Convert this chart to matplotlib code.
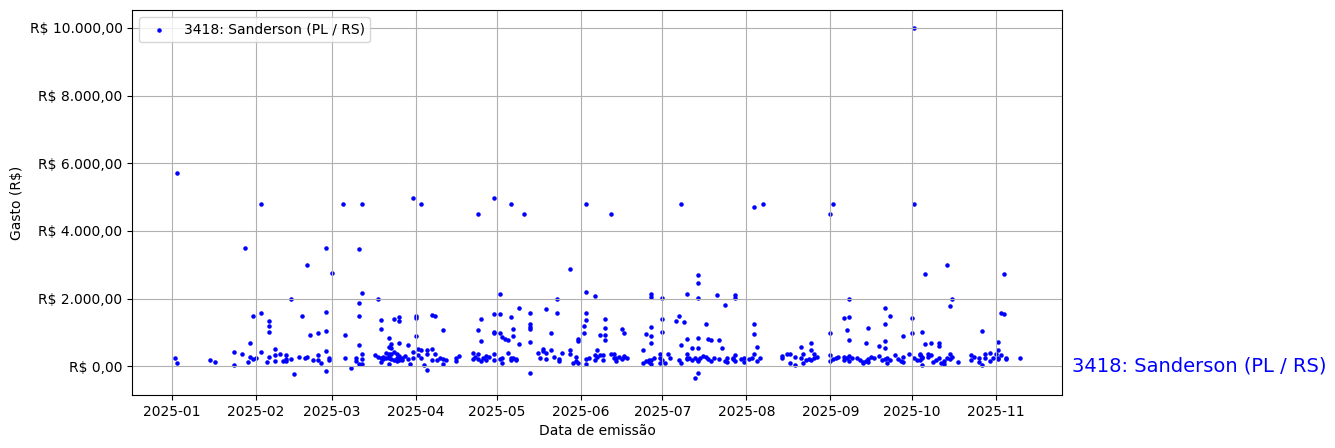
import numpy as np
import pandas as pd
import matplotlib
matplotlib.use("Agg")
import matplotlib.pyplot as plt
from matplotlib.ticker import FuncFormatter
import matplotlib.transforms as mtransforms

# ---- data: (day offset from 2025-01-01, value in R$) ----
pontos_jan_abr = [
    (2, 5710), (33, 4800), (63, 4800), (70, 4800), (89, 4980), (92, 4800), (27, 3500),
    (57, 3500), (69, 3470), (50, 3000), (59, 2760), (70, 2170), (69, 1880), (44, 2000),
    (76, 2000), (30, 1480), (33, 1580), (36, 1350), (36, 1200), (36, 1020), (48, 1490),
    (57, 1610), (57, 1050), (51, 930), (54, 990), (64, 930), (69, 1490), (69, 640),
    (77, 1380), (77, 1100), (82, 1410), (84, 1470), (84, 1350), (90, 1490), (90, 1430),
    (90, 900), (96, 1520), (97, 1480), (100, 1080), (29, 700), (80, 850), (87, 640), (84, 700),
    (1, 260), (2, 110), (14, 200), (16, 140), (23, 420), (23, 50), (26, 370), (28, 140),
    (29, 290), (30, 230), (31, 260), (33, 430), (35, 140), (36, 290), (38, 510), (38, 340),
    (38, 170), (40, 370), (41, 170), (42, 230), (42, 340), (42, 170), (45, -220), (44, 230),
    (47, 290), (49, 260), (50, 290), (52, 200), (54, 340), (54, 200), (55, 110), (57, 460),
    (57, -130), (58, 260), (58, 200), (64, 260), (66, -40), (68, 260), (68, 170), (69, 80),
    (70, 80), (70, 370), (70, 230), (75, 340), (76, 290), (77, 140), (77, 260), (78, 230),
    (78, 290), (79, 260), (80, 80), (80, 370), (80, 580), (81, 670), (81, 550), (82, 430),
    (80, 260), (81, 230), (83, 260), (83, 370), (84, 310), (84, 260), (85, 260), (85, 200),
    (88, 80), (89, 430), (89, 260), (91, 520), (91, 340), (92, 490), (92, 260), (93, 50),
    (94, 490), (94, 370), (94, -100), (96, 520), (96, 200), (97, 370), (98, 200), (99, 260),
    (100, 230), (101, 200), (100, 80), (80, 300), (82, 200), (83, 150), (81, 350),
    (79, 400), (84, 180), (86, 300), (87, 220),
]

pontos_abr_ago = [
    (113, 4500), (119, 4980), (125, 4800), (130, 4500), (153, 4800), (162, 4500),
    (188, 4800), (215, 4710),
    (147, 2880), (121, 2140), (153, 2200), (156, 2080), (142, 2000), (177, 2140),
    (177, 2050), (181, 2020), (190, 2140), (194, 2700), (194, 2470), (194, 2020),
    (201, 2110), (204, 1820), (208, 2110), (208, 2020),
    (114, 1410), (113, 1080), (114, 760), (119, 1550), (121, 1550), (119, 1020), (119, 990),
    (121, 990), (125, 1460), (126, 1110), (126, 900), (128, 1730), (128, 670), (122, 870),
    (123, 820), (124, 790), (132, 1580), (132, 1260), (132, 1170), (132, 1110), (132, 730),
    (138, 1700), (142, 1580), (140, 990), (150, 820), (150, 760), (153, 1580), (153, 1380),
    (152, 1200), (152, 990), (160, 1410), (160, 1140), (160, 930), (158, 930), (160, 790),
    (166, 1110), (167, 990), (177, 1170), (177, 900), (177, 700), (175, 960), (181, 1410),
    (181, 1020), (186, 1350), (187, 1490), (189, 1320), (188, 640), (190, 820), (197, 1260),
    (198, 820), (199, 790), (202, 790), (203, 550), (215, 1260), (215, 960), (216, 580),
    (194, 850), (194, 550), (192, 550), (174, 490), (180, 370),
    (105, 260), (106, 310), (105, 170), (111, 400), (112, 290), (111, 230), (113, 370),
    (113, 230), (114, 170), (115, 260), (116, 310), (116, 200), (117, 290), (119, 370),
    (119, 200), (121, 230), (122, 110), (122, 260), (124, 400), (125, 260), (125, 200),
    (126, 260), (127, 200), (127, 230), (132, -210), (135, 400), (136, 260), (137, 520),
    (137, 460), (138, 400), (138, 230), (140, 490), (141, 290), (143, 230), (143, 170),
    (144, 400), (147, 490), (147, 370), (148, 110), (149, 290), (149, 170), (150, 110),
    (153, 230), (153, 80), (154, 260), (156, 200), (156, 340), (157, 490), (157, 290),
    (158, 340), (159, 340), (159, 200), (162, 370), (163, 370), (163, 260), (164, 170),
    (164, 260), (165, 290), (166, 230), (167, 310), (167, 290), (168, 260), (174, 110),
    (175, 170), (176, 200), (176, 140), (177, 80), (177, 200), (178, 260), (180, 260),
    (180, 110), (181, 200), (182, 110), (183, 370), (184, 260), (187, 200), (188, 110),
    (190, 260), (190, 370), (190, 230), (191, 260), (192, 200), (193, 260), (194, 200),
    (194, 170), (194, -190), (193, -330), (195, 260), (196, 310), (197, 290), (198, 230),
    (199, 170), (200, 260), (202, 230), (204, 170), (205, 260), (205, 140), (207, 260),
    (207, 230), (208, 340), (208, 170), (210, 230), (211, 260), (211, 140), (213, 230),
    (214, 260), (215, 370), (216, 170), (217, 260),
]

pontos_ago_nov = [
    (218, 4800), (243, 4500), (244, 4800), (274, 4800), (274, 10000),
    (286, 3000), (278, 2730), (307, 2730), (250, 2000), (288, 2000), (287, 1790),
    (306, 1580), (307, 1550), (248, 1440), (250, 1460), (249, 1080), (243, 990), (250, 790),
    (257, 1140), (256, 700), (263, 1730), (263, 1260), (263, 760), (263, 550), (265, 1490),
    (261, 610), (270, 900), (273, 1440), (273, 990), (277, 1020), (278, 670), (280, 700),
    (283, 700), (283, 610), (299, 1050), (305, 730), (305, 490),
    (225, 310), (225, 260), (227, 370), (228, 110), (228, 370), (230, 290), (230, 50),
    (232, 580), (232, 260), (233, 370), (233, 110), (234, 200), (235, 230), (236, 700),
    (236, 490), (237, 370), (237, 260), (238, 290), (236, 200), (243, 340), (243, 170),
    (244, 230), (245, 260), (246, 290), (248, 290), (248, 200), (249, 260), (250, 310),
    (250, 170), (251, 260), (253, 260), (254, 200), (255, 110), (255, 140), (256, 170),
    (257, 140), (257, 230), (258, 290), (259, 260), (261, 310), (262, 200), (263, 230),
    (264, 260), (264, 110), (265, 200), (267, 340), (268, 230), (269, 170), (270, 290),
    (270, 140), (272, 370), (274, 260), (275, 200), (276, 340), (276, 370), (277, 290),
    (277, 50), (276, 200), (277, 260), (279, 370), (279, 290), (280, 340), (281, 140),
    (282, 200), (283, 260), (284, 110), (285, 80), (285, 170), (286, 260), (287, 370),
    (287, 230), (288, 290), (290, 140), (295, 340), (295, 200), (296, 290), (298, 260),
    (298, 140), (299, 50), (300, 370), (300, 260), (302, 400), (302, 170), (303, 260),
    (304, 370), (305, 260), (305, 230), (306, 340), (308, 260), (308, 230), (313, 260),
]

rotulo = "3418: Sanderson (PL / RS)"
inicio = np.datetime64("2025-01-01")

pontos = pontos_jan_abr + pontos_abr_ago + pontos_ago_nov
dias = np.array([p[0] for p in pontos])
gastos = np.array([p[1] for p in pontos], dtype=float)
datas = pd.to_datetime(inicio + dias.astype("timedelta64[D]"))

fig = plt.figure(figsize=(13.35, 4.48), dpi=100)
ax = fig.add_axes([0.0991, 0.1183, 0.6966, 0.8587])

ax.scatter(datas, gastos, s=5, color="blue", label=rotulo)
ax.grid(True)


def brl(v, pos):
    s = f"{v:,.2f}"
    s = s.replace(",", "X").replace(".", ",").replace("X", ".")
    return f"R$ {s}"


ax.yaxis.set_major_formatter(FuncFormatter(brl))
ax.set_xlabel("Data de emissão")
ax.set_ylabel("Gasto (R$)")
ax.legend(loc="upper left")

trans = mtransforms.blended_transform_factory(ax.transAxes, ax.transData)
ax.text(1.01, 0, rotulo, transform=trans, color="blue", fontsize=14,
        va="center", ha="left")

fig.savefig("out.png", dpi=100)
